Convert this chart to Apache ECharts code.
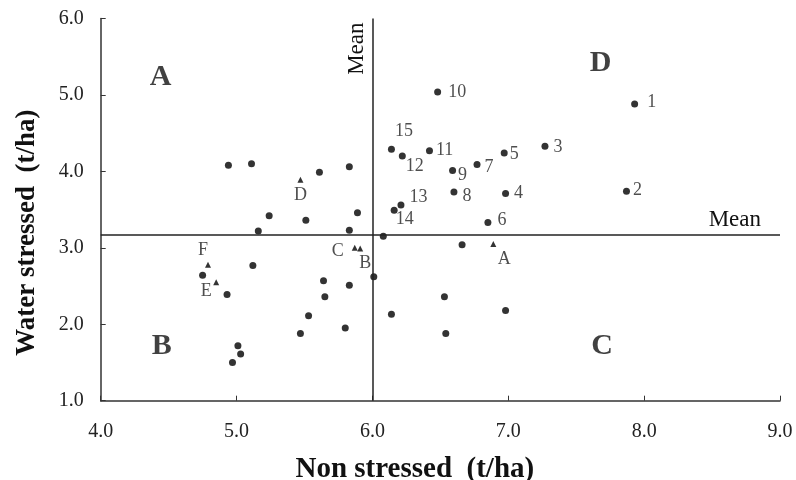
<!DOCTYPE html>
<html>
<head>
<meta charset="utf-8">
<script src="https://cdn.jsdelivr.net/npm/echarts@6/dist/echarts.min.js"></script>
<style>
  html, body { margin: 0; padding: 0; background: #fff; }
  #chart { width: 796px; height: 480px; }
</style>
</head>
<body>
<div id="chart"></div>
<script>
// numbered genotypes (non stressed, water stressed)
const numNames = ['1', '2', '3', '4', '5', '6', '7', '8', '9', '10', '11', '12', '13', '14', '15']
const numX = [7.93, 7.87, 7.27, 6.98, 6.97, 6.85, 6.77, 6.60, 6.59, 6.48, 6.42, 6.22, 6.21, 6.16, 6.14]
const numY = [4.88, 3.74, 4.33, 3.71, 4.24, 3.33, 4.09, 3.73, 4.01, 5.04, 4.27, 4.20, 3.56, 3.49, 4.29]

// other genotypes, no label
const otherX = [4.94, 5.11, 5.61, 5.83, 5.24, 5.51, 5.89, 5.16, 5.83, 6.08, 6.66, 4.75, 4.93, 5.12,
  6.01, 5.64, 5.83, 5.65, 5.53, 5.47, 5.80, 5.01, 5.03, 4.97, 6.14, 6.53, 6.54, 6.98]
const otherY = [4.08, 4.10, 3.99, 4.06, 3.42, 3.36, 3.46, 3.22, 3.23, 3.15, 3.04, 2.64, 2.39, 2.77,
  2.62, 2.57, 2.51, 2.36, 2.11, 1.88, 1.95, 1.72, 1.61, 1.50, 2.13, 2.36, 1.88, 2.18]

// checks (triangles)
const checkNames = ['A', 'B', 'C', 'D', 'E', 'F']
const checkX = [6.89, 5.91, 5.87, 5.47, 4.85, 4.79]
const checkY = [3.05, 2.99, 3.00, 3.89, 2.55, 2.78]

const meanX = 6.0
const meanY = 3.17

// quadrant letters
const quadNames = ['A', 'B', 'C', 'D']
const quadX = [4.44, 4.45, 7.69, 7.68]
const quadY = [5.23, 1.71, 1.71, 5.41]

// label placement: [position, offset]
const labelPlace = {
  '1': ['right', [4, -2]], '2': ['right', [-2, -1]], '3': ['right', [0, 1]], '4': ['right', [0, 0]],
  '5': ['right', [-3, 1]], '6': ['right', [1, -2]], '7': ['right', [-1, 3]], '8': ['right', [0, 4]],
  '9': ['right', [-3, 5]], '10': ['right', [2, 0]], '11': ['right', [-2, 0]], '12': ['right', [-5, 10]],
  '13': ['right', [0, -8]], '14': ['right', [-7, 9]], '15': ['right', [-5, -18]],
  'A': ['bottom', [11, -2]], 'B': ['bottom', [5, -2]], 'C': ['left', [-3, 3]],
  'D': ['bottom', [0, -2]], 'E': ['bottom', [-10, -8]], 'F': ['top', [-5, 3]]
}

const serif = '"Liberation Serif", "Times New Roman", serif'

function labelled(names, xs, ys) {
  return names.map((n, i) => ({
    name: n,
    value: [xs[i], ys[i]],
    label: { position: labelPlace[n][0], offset: labelPlace[n][1] }
  }))
}

const chart = echarts.init(document.getElementById('chart'))
chart.setOption({
  animation: false,
  grid: { left: 100.7, right: 16, top: 18.5, bottom: 79.3, containLabel: false, outerBoundsMode: 'none' },
  xAxis: {
    type: 'value', min: 4, max: 9, interval: 1,
    name: 'Non stressed  (t/ha)', nameLocation: 'middle', nameGap: 54,
    nameTextStyle: { fontFamily: serif, fontWeight: 'bold', fontSize: 29, color: '#111', padding: [0, 51, 0, 0] },
    axisLine: { lineStyle: { color: '#333', width: 1.5 } },
    axisTick: { inside: true, length: 5, lineStyle: { color: '#333' } },
    axisLabel: { fontFamily: serif, fontSize: 20, color: '#222', margin: 21, formatter: v => v.toFixed(1) },
    splitLine: { show: false }
  },
  yAxis: {
    type: 'value', min: 1, max: 6, interval: 1,
    name: 'Water stressed  (t/ha)', nameLocation: 'middle', nameGap: 60,
    nameTextStyle: { fontFamily: serif, fontWeight: 'bold', fontSize: 27, color: '#111', padding: [0, 46, 0, 0] },
    axisLine: { show: true, lineStyle: { color: '#333', width: 1.5 } },
    axisTick: { show: true, inside: true, length: 5, lineStyle: { color: '#333' } },
    axisLabel: { fontFamily: serif, fontSize: 20, color: '#222', margin: 17, formatter: v => v.toFixed(1) },
    splitLine: { show: false }
  },
  series: [
    {
      type: 'scatter', symbol: 'circle', symbolSize: 7,
      itemStyle: { color: '#000' },
      data: otherX.map((x, i) => [x, otherY[i]]),
      markLine: {
        silent: true, symbol: 'none',
        lineStyle: { color: '#222', width: 1.5, type: 'solid' },
        label: { formatter: 'Mean', fontFamily: serif, fontSize: 23, color: '#111' },
        data: [
          { xAxis: meanX, label: { position: 'insideEndTop', distance: 4 } },
          { yAxis: meanY, label: { position: 'insideEndTop', distance: 3, padding: [0, 16, 0, 0] } }
        ]
      }
    },
    {
      type: 'scatter', symbol: 'circle', symbolSize: 7,
      itemStyle: { color: '#000' },
      label: { show: true, formatter: '{b}', fontFamily: serif, fontSize: 18, color: '#222' },
      data: labelled(numNames, numX, numY)
    },
    {
      type: 'scatter', symbol: 'triangle', symbolSize: 6,
      itemStyle: { color: '#000' },
      label: { show: true, formatter: '{b}', fontFamily: serif, fontSize: 18, color: '#222' },
      data: labelled(checkNames, checkX, checkY)
    },
    {
      type: 'scatter', symbolSize: 0, silent: true,
      label: { show: true, position: 'inside', formatter: '{b}', fontFamily: serif, fontSize: 30, fontWeight: 'bold', color: '#111' },
      data: quadNames.map((n, i) => ({ name: n, value: [quadX[i], quadY[i]] }))
    }
  ]
})
</script>
</body>
</html>
